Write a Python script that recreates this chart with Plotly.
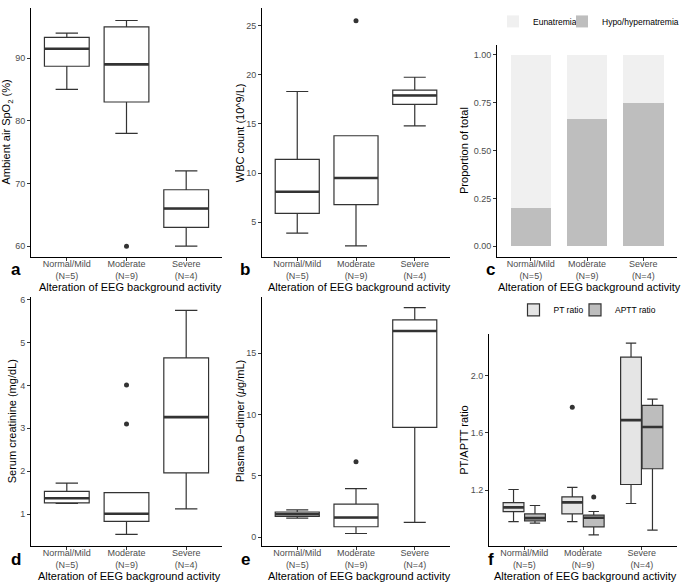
import plotly.graph_objects as go

W, H = 685, 583

# ---------------- data ----------------
cats = ["Normal/Mild", "Moderate", "Severe"]
cat_labels = ["Normal/Mild<br>(N=5)", "Moderate<br>(N=9)", "Severe<br>(N=4)"]

# a: Ambient air SpO2 (%)
spo2_low = [85.0, 78.0, 60.0]
spo2_q1 = [88.7, 83.0, 63.0]
spo2_med = [91.5, 89.0, 66.0]
spo2_q3 = [93.3, 95.0, 69.0]
spo2_high = [94.0, 96.0, 72.0]
spo2_out_x = ["Moderate"]
spo2_out_y = [60.0]

# b: WBC count
wbc_low = [3.9, 2.6, 14.8]
wbc_q1 = [5.9, 6.8, 17.0]
wbc_med = [8.1, 9.5, 17.9]
wbc_q3 = [11.4, 13.8, 18.45]
wbc_high = [18.3, 13.8, 19.75]
wbc_out_x = ["Moderate"]
wbc_out_y = [25.5]

# c: sodium status proportions
eunatremia = [0.80, 0.333, 0.25]
hyponatremia = [0.20, 0.667, 0.75]

# d: serum creatinine
creat_low = [1.25, 0.53, 1.12]
creat_q1 = [1.26, 0.83, 1.96]
creat_med = [1.37, 1.01, 3.26]
creat_q3 = [1.53, 1.50, 4.64]
creat_high = [1.72, 1.50, 5.75]
creat_out_x = ["Moderate", "Moderate"]
creat_out_y = [4.01, 3.10]

# e: plasma D-dimer
ddim_low = [1.55, 0.30, 1.20]
ddim_q1 = [1.70, 0.85, 8.95]
ddim_med = [1.88, 1.60, 16.8]
ddim_q3 = [2.05, 2.70, 17.7]
ddim_high = [2.22, 3.95, 18.7]
ddim_out_x = ["Moderate"]
ddim_out_y = [6.15]

# f: PT / APTT ratio
pt_low = [0.98, 0.98, 1.107]
pt_q1 = [1.05, 1.035, 1.24]
pt_med = [1.08, 1.115, 1.69]
pt_q3 = [1.113, 1.153, 2.13]
pt_high = [1.205, 1.22, 2.228]
pt_out_x = ["Moderate"]
pt_out_y = [1.78]

aptt_low = [0.97, 0.888, 0.921]
aptt_q1 = [0.986, 0.944, 1.35]
aptt_med = [1.005, 1.007, 1.642]
aptt_q3 = [1.035, 1.026, 1.793]
aptt_high = [1.093, 1.051, 1.837]
aptt_out_x = ["Moderate"]
aptt_out_y = [1.153]

# ---------------- style ----------------
FONT = "Liberation Sans"
BOXLINE = "#333333"
TICKCOL = "#4D4D4D"
PT_FILL = "#E5E5E5"
APTT_FILL = "#BDBDBD"
EU_FILL = "#F0F0F0"
HYPO_FILL = "#BEBEBE"


def px(x):
    return x / W


def py(y):
    return 1 - y / H


fig = go.Figure()


def add_box_panel(ax, low, q1, med, q3, high, out_x, out_y):
    xa, ya = ax
    fig.add_trace(go.Box(
        x=cats, q1=q1, median=med, q3=q3, lowerfence=low, upperfence=high,
        width=0.75, fillcolor="white", line=dict(color=BOXLINE, width=1.2),
        boxpoints=False, showlegend=False, hoverinfo="skip", xaxis=xa, yaxis=ya))
    # thick median line as in ggplot
    fig.add_trace(go.Box(
        x=cats, q1=med, median=med, q3=med, lowerfence=med, upperfence=med,
        width=0.75, fillcolor="rgba(0,0,0,0)", line=dict(color=BOXLINE, width=2.6),
        boxpoints=False, showlegend=False, hoverinfo="skip", xaxis=xa, yaxis=ya))
    fig.add_trace(go.Scatter(
        x=out_x, y=out_y, mode="markers",
        marker=dict(color=BOXLINE, size=5), showlegend=False,
        hoverinfo="skip", xaxis=xa, yaxis=ya))


add_box_panel(("x", "y"), spo2_low, spo2_q1, spo2_med, spo2_q3, spo2_high, spo2_out_x, spo2_out_y)
add_box_panel(("x2", "y2"), wbc_low, wbc_q1, wbc_med, wbc_q3, wbc_high, wbc_out_x, wbc_out_y)
add_box_panel(("x4", "y4"), creat_low, creat_q1, creat_med, creat_q3, creat_high, creat_out_x, creat_out_y)
add_box_panel(("x5", "y5"), ddim_low, ddim_q1, ddim_med, ddim_q3, ddim_high, ddim_out_x, ddim_out_y)

# panel c: stacked proportions
fig.add_trace(go.Bar(x=cats, y=hyponatremia, name="Hypo/hypernatremia",
                     marker=dict(color=HYPO_FILL, line=dict(width=0)), width=0.72,
                     legend="legend3", hoverinfo="skip",
                     xaxis="x3", yaxis="y3"))
fig.add_trace(go.Bar(x=cats, y=eunatremia, name="Eunatremia",
                     marker=dict(color=EU_FILL, line=dict(width=0)), width=0.72,
                     legend="legend", hoverinfo="skip",
                     xaxis="x3", yaxis="y3"))

# panel f: grouped boxes
for name, grp, leg, fill, low, q1, med, q3, high, ox, oy in [
    ("PT ratio", "PT", "legend2", PT_FILL, pt_low, pt_q1, pt_med, pt_q3, pt_high, pt_out_x, pt_out_y),
    ("APTT ratio", "APTT", "legend4", APTT_FILL, aptt_low, aptt_q1, aptt_med, aptt_q3, aptt_high,
     aptt_out_x, aptt_out_y),
]:
    fig.add_trace(go.Box(
        x=cats, q1=q1, median=med, q3=q3, lowerfence=low, upperfence=high,
        name=name, offsetgroup=grp, legendgroup=grp, legend=leg,
        fillcolor=fill, line=dict(color=BOXLINE, width=1.2), boxpoints=False,
        hoverinfo="skip", xaxis="x6", yaxis="y6"))
    fig.add_trace(go.Box(
        x=cats, q1=med, median=med, q3=med, lowerfence=med, upperfence=med,
        name=name, offsetgroup=grp, legendgroup=grp, showlegend=False,
        fillcolor="rgba(0,0,0,0)", line=dict(color=BOXLINE, width=2.6), boxpoints=False,
        hoverinfo="skip", xaxis="x6", yaxis="y6"))
    fig.add_trace(go.Box(
        x=ox, y=oy, name=name, offsetgroup=grp, legendgroup=grp, showlegend=False,
        fillcolor="rgba(0,0,0,0)", line=dict(color="rgba(0,0,0,0)", width=0),
        boxpoints="all", jitter=0, pointpos=0,
        marker=dict(color=BOXLINE, size=5),
        hoverinfo="skip", xaxis="x6", yaxis="y6"))

# ---------------- axes ----------------
panels = {
    # name: (x0, x1, ytop, ybottom, yrange, tickvals, ticktext)
    "1": (31, 222, 6, 256, [58.25, 98.0], [60, 70, 80, 90], ["60", "70", "80", "90"]),
    "2": (262, 450, 6, 256, [1.45, 26.8], [5, 10, 15, 20, 25], ["5", "10", "15", "20", "25"]),
    "3": (497, 677, 43, 256, [-0.057, 1.052], [0, 0.25, 0.5, 0.75, 1.0],
          ["0.00", "0.25", "0.50", "0.75", "1.00"]),
    "4": (31, 222, 296, 546, [0.254, 6.06], [1, 2, 3, 4, 5, 6], ["1", "2", "3", "4", "5", "6"]),
    "5": (262, 450, 296, 546, [-0.73, 19.57], [0, 5, 10, 15], ["0", "5", "10", "15"]),
    "6": (489, 677, 333, 546, [0.809, 2.293], [1.2, 1.6, 2.0], ["1.2", "1.6", "2.0"]),
}

layout = dict(
    width=W, height=H, margin=dict(l=0, r=0, t=0, b=0),
    paper_bgcolor="white", plot_bgcolor="white",
    font=dict(family=FONT, size=9, color=TICKCOL),
    barmode="stack", boxmode="group", boxgap=0.27, boxgroupgap=0.03,
    annotations=[],
)

for k, (x0, x1, yt, yb, yr, tv, tt) in panels.items():
    suffix = "" if k == "1" else k
    layout["xaxis" + suffix] = dict(
        domain=[px(x0), px(x1)], anchor="y" + suffix,
        type="category", categoryorder="array", categoryarray=cats,
        range=[-0.6, 2.6], tickmode="array", tickvals=cats, ticktext=cat_labels,
        showline=True, linecolor="black", linewidth=1, mirror=False,
        ticks="outside", ticklen=3, tickcolor=BOXLINE, tickwidth=1,
        ticklabelstandoff=-5,
        showgrid=False, zeroline=False, fixedrange=True,
        tickfont=dict(size=9, color=TICKCOL, family=FONT),
    )
    layout["yaxis" + suffix] = dict(
        domain=[py(yb), py(yt)], anchor="x" + suffix, range=yr,
        tickmode="array", tickvals=tv, ticktext=tt,
        showline=True, linecolor="black", linewidth=1,
        ticks="outside", ticklen=3, tickcolor=BOXLINE, tickwidth=1,
        showgrid=False, zeroline=False, fixedrange=True,
        tickfont=dict(size=9, color=TICKCOL, family=FONT),
    )

xtitle = "Alteration of EEG background activity"
xtitle_pos = [(130, 286), (359, 286), (589.5, 286), (129, 576), (359, 576), (585.5, 576)]
for (x, y) in xtitle_pos:
    layout["annotations"].append(dict(
        text=xtitle, xref="paper", yref="paper", x=px(x), y=py(y),
        xanchor="center", yanchor="middle", showarrow=False,
        font=dict(family=FONT, size=11, color="black")))

ytitles = [
    ("Ambient air SpO<sub>2</sub> (%)", 7, 131),
    ("WBC count (10^9/L)", 239.7, 131),
    ("Proportion of total", 464, 149.5),
    ("Serum creatinine (mg/dL)", 11.7, 421),
    ("Plasma D\u2212dimer (<i>\u03bc</i>g/mL)", 239.7, 421),
    ("PT/APTT ratio", 463.8, 439.5),
]
for (t, x, y) in ytitles:
    layout["annotations"].append(dict(
        text=t, xref="paper", yref="paper", x=px(x), y=py(y), textangle=-90,
        xanchor="center", yanchor="middle", showarrow=False,
        font=dict(family=FONT, size=11, color="black")))

letters = [("a", 15.5, 268.5), ("b", 244.5, 268.5), ("c", 491, 268.5),
           ("d", 16, 559), ("e", 245, 559), ("f", 491, 559)]
for (t, x, y) in letters:
    layout["annotations"].append(dict(
        text="<b>%s</b>" % t, xref="paper", yref="paper", x=px(x), y=py(y),
        xanchor="center", yanchor="middle", showarrow=False,
        font=dict(family=FONT, size=17, color="black")))


def legend_at(x, y_mid, anchor="left"):
    return dict(
        x=px(x), y=py(y_mid), xanchor=anchor, yanchor="middle", orientation="h",
        font=dict(family=FONT, size=8.5, color="black"), bgcolor="rgba(0,0,0,0)",
        itemclick=False, itemdoubleclick=False)


layout["legend"] = legend_at(493, 19.5)              # Eunatremia
layout["legend3"] = legend_at(684, 19.5, "right")    # Hypo/hypernatremia
layout["legend2"] = legend_at(513.5, 309)            # PT ratio
layout["legend4"] = legend_at(575, 309)              # APTT ratio

fig.update_layout(**layout)
fig.write_html(
    "out.html",
    config={"displayModeBar": False},
    post_script="document.body.style.margin='0px';document.body.style.padding='0px';",
)
